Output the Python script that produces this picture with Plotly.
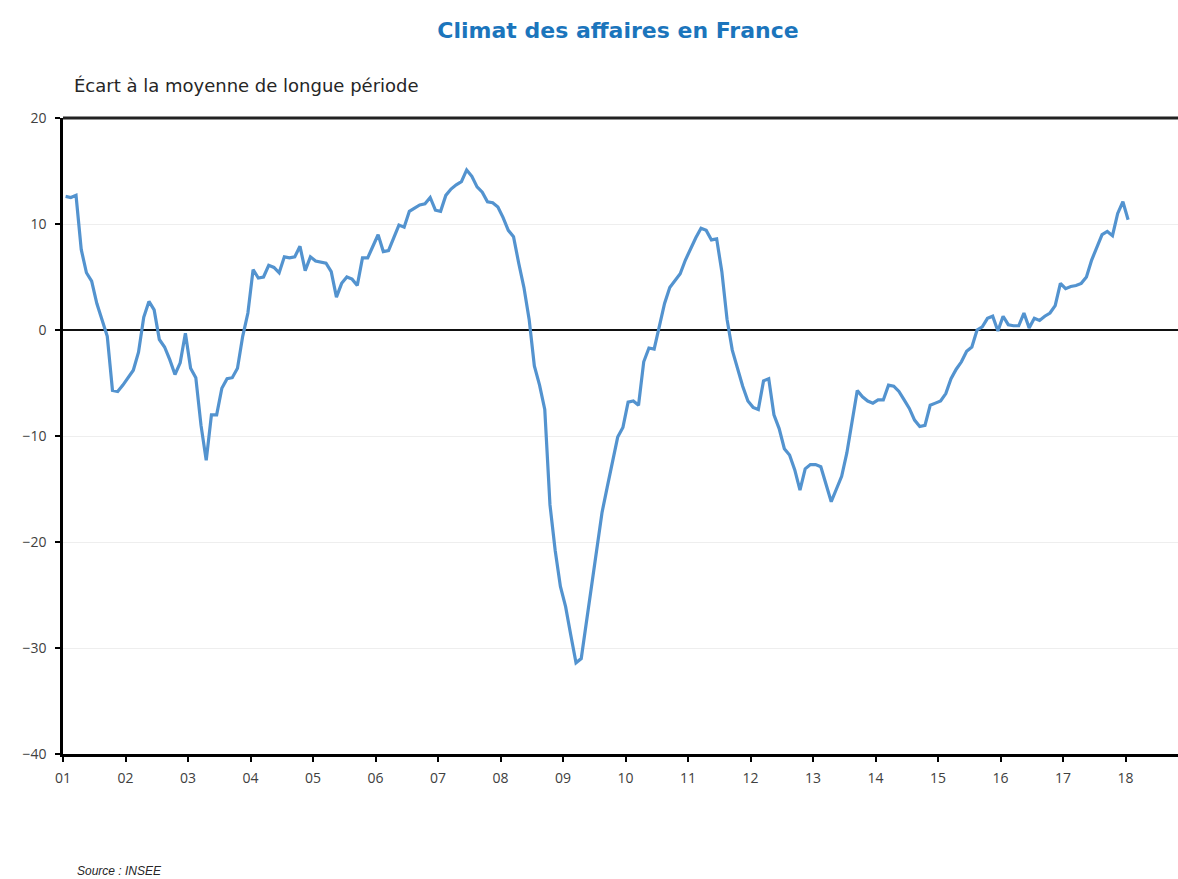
import plotly.graph_objects as go

# Monthly values, Jan 2001 .. Jan 2018 (deviation from long-term mean)
values = [
    12.6, 12.5, 12.7, 7.6, 5.4, 4.6, 2.5, 1.0, -0.6, -5.7, -5.8, -5.2,      # 2001
    -4.5, -3.8, -2.1, 1.2, 2.7, 1.9, -0.9, -1.6, -2.8, -4.2, -3.1, -0.3,    # 2002
    -3.6, -4.5, -9.0, -12.3, -8.0, -8.0, -5.5, -4.6, -4.5, -3.6, -0.6, 1.6, # 2003
    5.7, 4.9, 5.0, 6.1, 5.9, 5.4, 6.9, 6.8, 6.9, 7.9, 5.6, 6.9,             # 2004
    6.5, 6.4, 6.3, 5.5, 3.1, 4.4, 5.0, 4.8, 4.2, 6.8, 6.8, 7.9,             # 2005
    9.0, 7.4, 7.5, 8.7, 9.9, 9.7, 11.2, 11.5, 11.8, 11.9, 12.5, 11.3,       # 2006
    11.2, 12.7, 13.3, 13.7, 14.0, 15.1, 14.5, 13.5, 13.0, 12.1, 12.0, 11.6, # 2007
    10.6, 9.4, 8.8, 6.3, 4.0, 1.0, -3.4, -5.2, -7.5, -16.5, -20.8, -24.2,   # 2008
    -26.1, -28.8, -31.4, -31.0, -27.6, -24.5, -21.0, -17.2, -14.8, -12.6, -10.1, -9.2,  # 2009
    -6.8, -6.7, -7.1, -3.0, -1.7, -1.8, 0.3, 2.5, 4.0, 4.7, 5.3, 6.6,       # 2010
    7.7, 8.7, 9.6, 9.4, 8.5, 8.6, 5.5, 1.0, -1.9, -3.6, -5.3, -6.7,         # 2011
    -7.3, -7.5, -4.8, -4.6, -8.0, -9.3, -11.2, -11.8, -13.2, -15.1, -13.1, -12.7,  # 2012
    -12.7, -12.9, -14.5, -16.2, -15.0, -13.8, -11.6, -8.5, -5.7, -6.3, -6.7, -6.9, # 2013
    -6.6, -6.6, -5.2, -5.3, -5.8, -6.6, -7.4, -8.5, -9.1, -9.0, -7.1, -6.9, # 2014
    -6.7, -6.0, -4.6, -3.7, -3.0, -2.0, -1.6, 0.0, 0.3, 1.1, 1.3, -0.1,     # 2015
    1.3, 0.5, 0.4, 0.4, 1.6, 0.2, 1.1, 0.9, 1.3, 1.6, 2.3, 4.4,             # 2016
    3.9, 4.1, 4.2, 4.4, 5.0, 6.6, 7.8, 9.0, 9.3, 8.9, 11.0, 12.1,           # 2017
    10.4,                                                                    # 2018
]
start_year = 2001
# position of each month on a continuous year axis (mid-month)
x_time = [start_year + (i + 0.5) / 12 for i in range(len(values))]

year_ticks = list(range(2001, 2019))
year_labels = [f"{y % 100:02d}" for y in year_ticks]
y_ticks = [-40, -30, -20, -10, 0, 10, 20]

title_text = "Climat des affaires en France"
subtitle_text = "Écart à la moyenne de longue période"
source_text = "Source : INSEE"

fig = go.Figure()
fig.add_trace(go.Scatter(
    x=x_time, y=values, mode="lines",
    line=dict(color="#5393CF", width=3.2),
    hoverinfo="skip", showlegend=False,
))

fig.update_layout(
    width=1178, height=879,
    margin=dict(l=63, r=0, t=118, b=125),
    paper_bgcolor="white", plot_bgcolor="white",
    title=dict(
        text=f"<b>{title_text}</b>",
        x=618 / 1178, xanchor="center", y=1 - 30 / 879, yanchor="middle",
        font=dict(family="DejaVu Sans", size=22, color="#1B75BC"),
    ),
    xaxis=dict(
        range=[2001, 2001 + 1115 / 62.5],
        tickmode="array", tickvals=year_ticks, ticktext=year_labels,
        showgrid=False, zeroline=False,
        showline=True, linecolor="black", linewidth=2.5,
        ticks="outside", ticklen=5, tickcolor="black", tickwidth=1.5,
        ticklabelstandoff=4,
        tickfont=dict(family="Open Sans", size=14, color="#404040"),
    ),
    yaxis=dict(
        range=[-40, 20],
        tickmode="array", tickvals=y_ticks,
        showgrid=True, gridcolor="#EEEEEE", gridwidth=1,
        zeroline=True, zerolinecolor="#111111", zerolinewidth=1.5,
        showline=True, linecolor="black", linewidth=2.5,
        ticks="outside", ticklen=5, tickcolor="black", tickwidth=1.5,
        ticklabelstandoff=6,
        tickfont=dict(family="Open Sans", size=14, color="#404040"),
    ),
    shapes=[dict(
        type="line", xref="paper", yref="paper", x0=0, x1=1, y0=1, y1=1,
        line=dict(color="#222222", width=3),
    )],
    annotations=[
        dict(text=subtitle_text, xref="paper", yref="paper",
             x=(72 - 63) / 1115, y=(754 - 85) / 636,
             xanchor="left", yanchor="middle", showarrow=False,
             font=dict(family="DejaVu Sans", size=18, color="#262626")),
        dict(text=f"<i>{source_text}</i>", xref="paper", yref="paper",
             x=(75 - 63) / 1115, y=(754 - 871) / 636,
             xanchor="left", yanchor="middle", showarrow=False,
             font=dict(family="Liberation Sans", size=12, color="#262626")),
    ],
)

fig.write_html(
    "out.html",
    config={"displayModeBar": False},
    post_script="document.body.style.margin='0';document.body.style.overflow='hidden';",
)
